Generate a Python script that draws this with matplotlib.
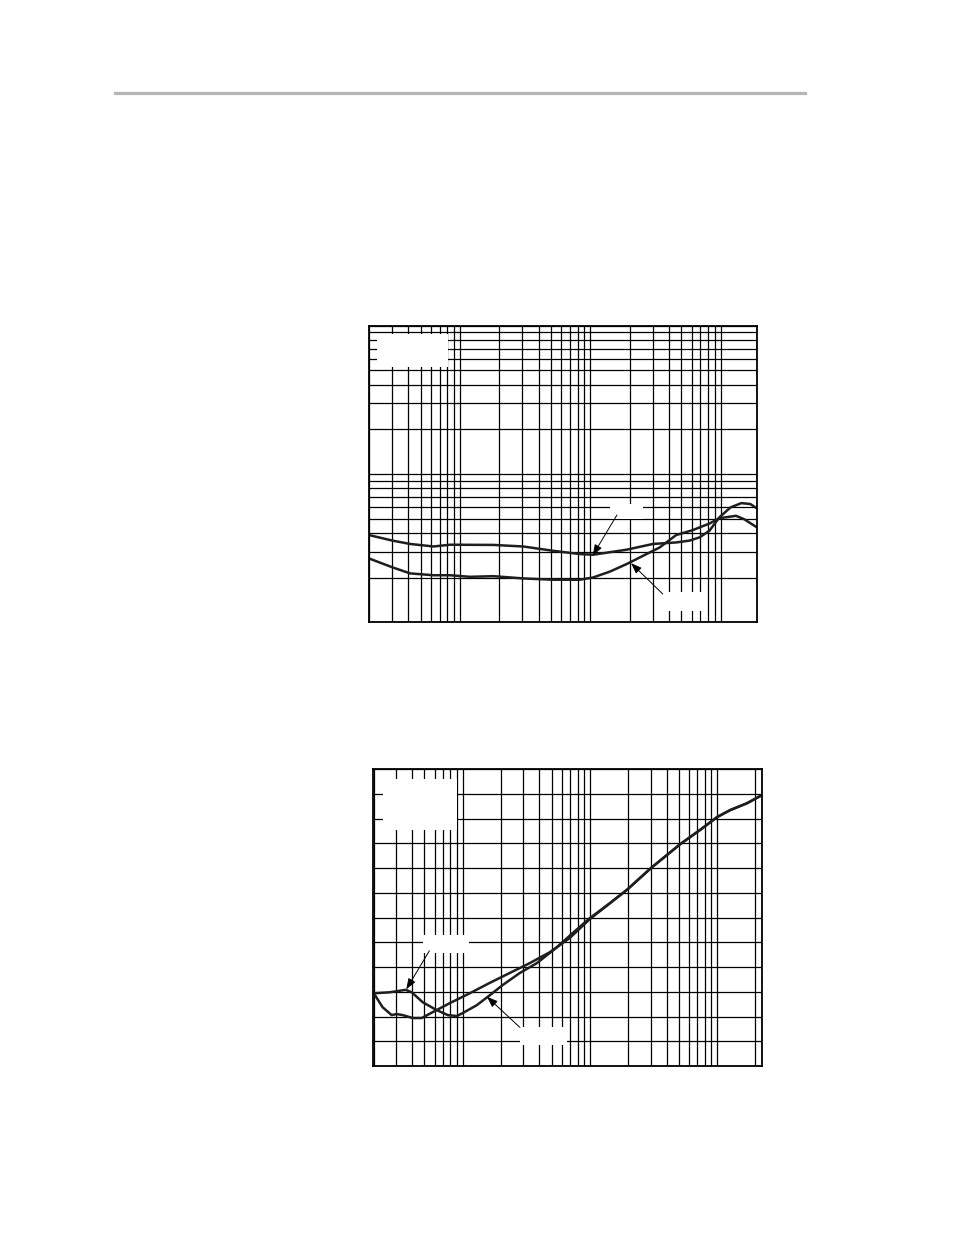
import numpy as np
import matplotlib
matplotlib.use('Agg')
import matplotlib.pyplot as plt
from matplotlib.patches import Rectangle
from matplotlib.lines import Line2D
from matplotlib.ticker import LogLocator, MultipleLocator, NullFormatter

# верхний график: две кривые, лог-лог (Гц / %)
freq_top_a = [20, 30.3, 41.4, 62.5, 83.8, 180, 305, 518, 828, 1050, 1890, 3020,
              4550, 5760, 6870, 8200, 9770, 11900, 14400, 16900, 19000]
val_top_a = [0.00388, 0.00356, 0.00338, 0.00325, 0.00334, 0.00333, 0.00325, 0.00304,
             0.00289, 0.00286, 0.00309, 0.00338, 0.00346, 0.00356, 0.00374, 0.00415,
             0.00511, 0.00596, 0.00637, 0.00628, 0.00587]

freq_top_b = [20, 30.3, 41.4, 62.5, 83.8, 119, 180, 305, 518, 828, 1050, 1410, 1890,
              2530, 3400, 4550, 6100, 8200, 9770, 13100, 15100, 19000]
val_top_b = [0.00270, 0.00235, 0.00214, 0.00208, 0.00208, 0.00203, 0.00205, 0.00198,
             0.00194, 0.00194, 0.00201, 0.00220, 0.00247, 0.00281, 0.00320, 0.00388,
             0.00419, 0.00464, 0.00504, 0.00523, 0.00497, 0.00437]

# нижний график: две кривые, лог по частоте, линейно по дБ
freq_bot_c = [20, 26.6, 35.6, 39.7, 48.4, 62.4, 76.2, 89.7, 100, 129, 163, 207, 281,
              383, 550, 734, 1000]
val_bot_c = [-125.3, -125.1, -124.6, -125.1, -127.1, -128.7, -129.7, -129.9, -129.3,
             -127.7, -125.7, -123.6, -121.2, -119.2, -116.0, -113.1, -110.1]

freq_bot_d = [20, 23.4, 27.6, 30.2, 33.7, 40.4, 47.6, 58.1, 79, 113.5, 163, 234, 337,
              484, 696, 1000]
val_bot_d = [-125.3, -128.1, -129.7, -129.5, -129.7, -130.3, -130.3, -129.1, -127.3,
             -125.3, -123.2, -121.2, -119.2, -117.0, -114.1, -110.3]

# общий хвост кривых выше 1 кГц
freq_bot_tail = [1436, 1955, 3020, 5113, 7347, 10000, 12650, 17200, 22400]
val_bot_tail = [-107.1, -104.4, -100.0, -95.2, -92.3, -89.7, -88.3, -86.9, -85.3]

curve_color = '#1e1e1e'


def setup_grid(ax):
    ax.set_axisbelow(True)
    ax.grid(which='both', color='black', lw=0.9)
    ax.tick_params(which='both', length=0, labelbottom=False, labelleft=False)
    for s in ax.spines.values():
        s.set_linewidth(1.3)


def white_box(ax, x0, y0, x1, y1):
    ax.add_patch(Rectangle((x0, y0), x1 - x0, y1 - y0, transform=ax.transAxes,
                           facecolor='white', edgecolor='none', zorder=1))


def arrow(ax, tip, start):
    ax.annotate('', xy=tip, xycoords='data', xytext=start, textcoords='axes fraction',
                arrowprops=dict(arrowstyle='-|>,head_length=0.65,head_width=0.24',
                                lw=0.7, color='black', shrinkA=0, shrinkB=0),
                zorder=4)


def curve(ax, f, v):
    ax.plot(f, v, color=curve_color, lw=1.8, zorder=2,
            solid_joinstyle='round', solid_capstyle='butt')


fig = plt.figure(figsize=(9.54, 12.35), dpi=100)

# серая линия вверху страницы
fig.add_artist(Line2D([0.1205, 0.8438], [0.9251, 0.9251], transform=fig.transFigure,
                      color='#b6b6b6', lw=2.3))

# --- верхний график ---
ax1 = fig.add_axes([0.3868, 0.4960, 0.4067, 0.2403])
ax1.set_xscale('log')
ax1.set_yscale('log')
ax1.set_xlim(20, 19000)
ax1.set_ylim(0.001, 0.1)
for axis in (ax1.xaxis, ax1.yaxis):
    axis.set_major_locator(LogLocator(base=10, numticks=20))
    axis.set_minor_locator(LogLocator(base=10, subs=np.arange(2, 10), numticks=20))
    axis.set_minor_formatter(NullFormatter())
setup_grid(ax1)
curve(ax1, freq_top_a, val_top_a)
curve(ax1, freq_top_b, val_top_b)
white_box(ax1, 0.0198, 0.862, 0.2044, 0.972)
white_box(ax1, 0.621, 0.349, 0.707, 0.398)
white_box(ax1, 0.763, 0.040, 0.866, 0.104)
arrow(ax1, (1042, 0.00283), (0.639, 0.362))
arrow(ax1, (2051, 0.00251), (0.757, 0.096))

# --- нижний график ---
ax2 = fig.add_axes([0.3910, 0.1368, 0.4074, 0.2405])
ax2.set_xscale('log')
ax2.set_xlim(19.7, 22400)
ax2.set_ylim(-140, -80)
ax2.xaxis.set_major_locator(LogLocator(base=10, numticks=20))
ax2.xaxis.set_minor_locator(LogLocator(base=10, subs=np.arange(2, 10), numticks=20))
ax2.xaxis.set_minor_formatter(NullFormatter())
ax2.yaxis.set_major_locator(MultipleLocator(5))
setup_grid(ax2)
curve(ax2, freq_bot_c + freq_bot_tail, val_bot_c + val_bot_tail)
curve(ax2, freq_bot_d + freq_bot_tail, val_bot_d + val_bot_tail)
white_box(ax2, 0.0265, 0.795, 0.2153, 0.965)
white_box(ax2, 0.128, 0.379, 0.248, 0.441)
white_box(ax2, 0.378, 0.071, 0.498, 0.132)
arrow(ax2, (36, -124.5), (0.145, 0.388))
arrow(ax2, (155, -126.0), (0.378, 0.130))

fig.savefig('out.png', dpi=100)
